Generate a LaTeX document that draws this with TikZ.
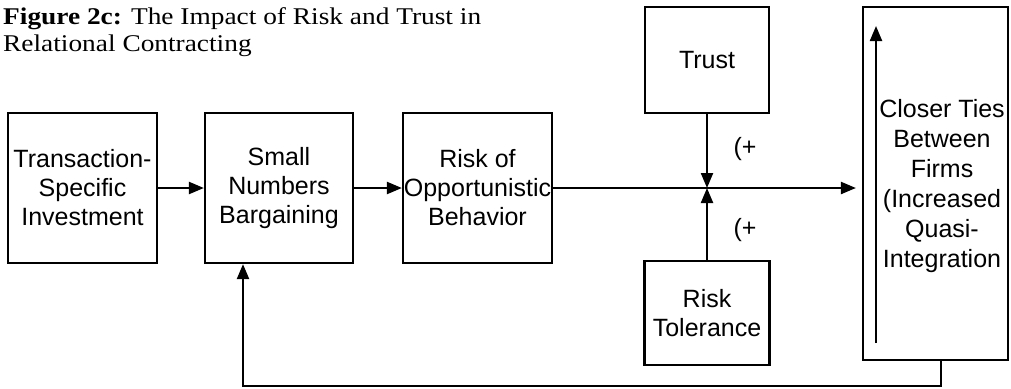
\documentclass[tikz,border=0pt]{standalone}
\usepackage{fontspec}
\setmainfont{Liberation Serif}
\setsansfont{Liberation Sans}
\newfontfamily\titlefont{Liberation Serif}[FakeStretch=1.14]
\usetikzlibrary{arrows.meta}
\tikzstyle{b}=[draw,line width=2.2pt,align=center,inner sep=0,font=\sffamily\fontsize{25}{29}\selectfont]
\tikzstyle{t}=[align=center,inner sep=0,font=\sffamily\fontsize{25}{30}\selectfont]
\tikzstyle{h}=[anchor=base west,inner sep=0,font=\titlefont\fontsize{24}{26}\selectfont]
\tikzstyle{l}=[line width=2.2pt,-{Triangle[length=15pt,width=12pt]}]

\begin{document}
\begin{tikzpicture}[x=1pt,y=-1pt]
        \useasboundingbox (0,0) rectangle (1011,388);

                        \node[h] (title1) at (3,24) {\textbf{Figure 2c:} The Impact of Risk and Trust in};
                        \node[h] (title2) at (3,51) {Relational Contracting};

                        \node[b,minimum width=149,minimum height=150] (tsi) at (82.5,188) {Transaction-\\Specific\\Investment};
                        \node[b,minimum width=148,minimum height=150] (snb) at (279,188) {Small\\Numbers\\Bargaining};
                        \node[b,minimum width=149,minimum height=150] (rob) at (477.5,188) {Risk of\\Opportunistic\\Behavior};
                        \node[b,minimum width=124,minimum height=106] (trust) at (707,60) {Trust};
                        \node[b,minimum width=125,minimum height=104] (tol) at (707,313) {Risk\\Tolerance};
                        \node[b,minimum width=145,minimum height=353] (closer) at (935.5,183.5) {};
                        \node[t] (closertxt) at (942,186) {Closer Ties\\Between\\Firms\\(Increased\\Quasi-\\Integration};

                        \node[t] (plus1) at (745,149) {(+};
                        \node[t] (plus2) at (745,230) {(+};

                        \coordinate (x) at (trust.south |- rob.east);
                        \coordinate (up1) at (876,343);
                        \coordinate (up2) at (876,26);
                        \coordinate (fb1) at (941,386);
                        \coordinate (fb2) at (243,386);

                        \draw[l] (tsi) -- (snb);
                        \draw[l] (snb) -- (rob);
                        \draw[l,shorten >=6pt] (rob.east) -- (rob.east -| closer.west);
                        \draw[l] (trust.south) -- (x);
                        \draw[l] (tol.north) -- (x);
                        \draw[l] (up1) -- (up2);
                        \draw[l] (fb1 |- closer.south) -- (fb1) -- (fb2) -- (fb2 |- snb.south);

\end{tikzpicture}
\end{document}
